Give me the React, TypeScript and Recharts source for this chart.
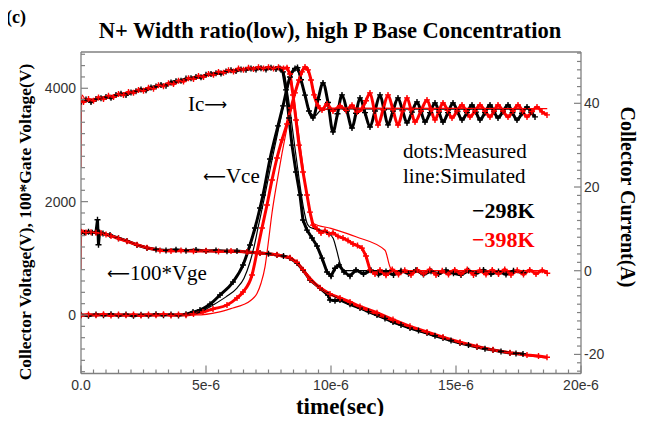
import React from 'react';
import { ComposedChart, Line, XAxis, YAxis } from 'recharts';

type P = [number, number];

// ---- axis ticks / labels ----
const timeTicksMajor = [0, 5, 10, 15, 20];
const timeTickLabels = ['0.0', '5e-6', '10e-6', '15e-6', '20e-6'];
const voltTicksMajor = [0, 2000, 4000];
const voltTickLabels = ['0', '2000', '4000'];
const currTicksMajor = [-20, 0, 20, 40];
const currTickLabels = ['-20', '0', '20', '40'];

const timeTicks = Array.from({ length: 41 }, (_, i) => i * 0.5);
const voltTicks = Array.from({ length: 29 }, (_, i) => -1000 + i * 200);
const currTicks = Array.from({ length: 39 }, (_, i) => -24 + i * 2);

// ---- data: time in 1e-6 s ----
// Collector current (A), measured dots
const ic298Meas: P[] = [[0,40.4],[0.2,40.9],[0.4,40.3],[0.6,41.0],[0.8,41.2],[1.0,41.5],[1.2,41.3],[1.4,42.0],[1.6,42.3],[1.8,42.0],[2.0,42.6],[2.2,42.9],[2.4,43.3],[2.6,43.1],[2.8,43.8],[3.0,44.0],[3.2,44.4],[3.4,44.2],[3.6,45.0],[3.8,45.3],[4.0,45.4],[4.2,45.9],[4.4,46.0],[4.6,46.3],[4.8,46.2],[5.0,46.8],[5.2,47.0],[5.4,47.2],[5.6,47.1],[5.8,47.6],[6.0,47.9],[6.2,47.7],[6.4,48.1],[6.6,48.0],[6.8,48.3],[7.0,48.1],[7.2,48.4],[7.4,48.1],[7.6,48.5],[7.8,48.2],[7.96,48.3],[8.08,47.5],[8.2,43.2],[8.32,36.5],[8.44,30.0],[8.6,23.6],[8.76,18.1],[8.88,12.1],[9.04,9.7],[9.24,7.8],[9.44,5.9],[9.64,3.0],[9.84,-0.3],[10.0,-1.3],[10.16,0.6],[10.32,1.4],[10.52,-0.3],[10.76,-1.3],[11.0,0.2],[11.3,-0.8],[11.6,0.1],[11.9,-0.9],[12.2,-0.2],[12.5,-1.0],[12.8,0.0],[13.1,-0.7],[13.4,0.2],[13.7,-0.9],[14.0,-0.1],[14.3,-0.8],[14.6,0.1],[14.9,-0.6],[15.2,-1.0],[15.5,0.0],[15.8,-0.7],[16.1,0.2],[16.4,-0.8],[16.7,-0.2],[17.0,-0.9],[17.3,0.0],[17.7,-0.5]];
const ic398Meas: P[] = [[0,40.9],[0.1,40.3],[0.3,41.0],[0.5,40.6],[0.7,41.4],[0.9,41.0],[1.1,41.8],[1.3,41.5],[1.5,42.2],[1.7,42.0],[1.9,42.7],[2.1,42.5],[2.3,43.2],[2.5,43.0],[2.7,43.7],[2.9,43.5],[3.1,44.3],[3.3,44.1],[3.5,44.8],[3.7,44.6],[3.9,45.4],[4.1,45.2],[4.3,46.0],[4.5,45.8],[4.7,46.5],[4.9,46.3],[5.1,47.0],[5.3,46.8],[5.5,47.5],[5.7,47.3],[5.9,47.9],[6.1,47.6],[6.3,48.3],[6.5,48.0],[6.7,48.5],[6.9,48.2],[7.1,48.6],[7.3,48.3],[7.5,48.6],[7.7,48.3],[7.9,48.6],[8.1,48.3],[8.24,48.5],[8.36,47.0],[8.48,42.0],[8.6,36.0],[8.72,30.0],[8.88,23.6],[9.04,18.1],[9.16,14.0],[9.28,10.9],[9.44,10.0],[9.6,9.0],[9.76,9.6],[9.92,8.7],[10.08,9.1],[10.28,8.2],[10.48,7.8],[10.68,7.2],[10.88,6.4],[11.06,6.0],[11.24,5.4],[11.4,3.5],[11.56,0.2],[11.76,-0.8],[11.96,0.2],[12.2,-1.1],[12.45,0.3],[12.7,-0.9],[12.95,0.1],[13.2,-1.0],[13.45,0.2],[13.7,-0.8],[13.95,0.3],[14.2,-1.0],[14.45,0.0],[14.7,-0.9],[14.95,0.2],[15.2,-0.8],[15.45,0.3],[15.7,-1.0],[15.95,0.1],[16.2,-0.9],[16.45,0.2],[16.7,-0.8],[16.95,0.3],[17.2,-1.0],[17.45,0.1],[17.7,-0.9],[17.95,0.2],[18.2,-0.8],[18.45,0.1],[18.65,-0.6]];
// Collector current (A), simulated lines
const ic298Sim: P[] = [[0,40.6],[1,41.5],[2,42.7],[3,44.0],[4,45.3],[5,46.6],[6,47.6],[7,48.2],[7.9,48.4],[8.1,47.6],[8.3,41.0],[8.5,32.0],[8.7,23.0],[8.9,15.0],[9.05,11.2],[9.16,10.4],[9.5,9.8],[9.84,9.2],[10.08,7.8],[10.24,4.6],[10.36,1.8],[10.5,0.0],[17.8,0.0]];
const ic398Sim: P[] = [[0,24.8],[0.03,42.0],[0.2,40.8],[1,41.6],[2,42.8],[3,44.1],[4,45.4],[5,46.7],[6,47.7],[7,48.3],[8.2,48.5],[8.4,46.0],[8.6,37.5],[8.8,28.5],[9.0,19.5],[9.16,13.5],[9.3,11.3],[10.0,10.1],[11.0,8.1],[12.16,4.9],[12.36,0.9],[12.5,0.0],[18.65,0.0]];

// Collector voltage (V), measured dots
const vce298Meas: P[] = [[0,5],[0.3,-12],[0.6,10],[0.9,-6],[1.2,14],[1.5,-10],[1.8,8],[2.1,-14],[2.4,6],[2.7,-8],[3.0,12],[3.3,-5],[3.6,9],[3.9,-7],[4.2,15],[4.48,53],[4.76,88],[5.16,190],[5.56,353],[6.08,582],[6.48,882],[6.76,1235],[6.96,1535],[7.16,1888],[7.28,2118],[7.56,2753],[7.88,3336],[8.08,3689],[8.36,4200],[8.56,4350],[8.66,4365],[8.8,4150],[8.96,3880],[9.12,3600],[9.28,3477],[9.48,3800],[9.68,4095],[9.88,3750],[10.08,3230],[10.26,3550],[10.44,3883],[10.64,3600],[10.84,3300],[11.0,3560],[11.16,3830],[11.36,3570],[11.56,3318],[11.76,3600],[11.96,3883],[12.12,3620],[12.28,3354],[12.48,3600],[12.68,3830],[12.86,3610],[13.04,3389],[13.24,3580],[13.44,3760],[13.6,3590],[13.76,3406],[13.96,3570],[14.16,3742],[14.32,3580],[14.48,3406],[14.68,3570],[14.88,3742],[15.06,3590],[15.24,3442],[15.44,3570],[15.64,3706],[15.8,3580],[15.96,3442],[16.16,3570],[16.36,3706],[16.52,3590],[16.68,3477],[16.88,3590],[17.08,3706],[17.26,3570],[17.44,3442],[17.64,3560],[17.84,3671],[18.0,3580],[18.16,3495]];
const vce398Meas: P[] = [[0,-8],[0.3,10],[0.6,-5],[0.9,12],[1.2,-10],[1.5,7],[1.8,-6],[2.1,11],[2.4,-9],[2.7,8],[3.0,-4],[3.3,13],[3.6,-7],[3.9,9],[4.2,-3],[4.5,18],[4.88,53],[5.28,106],[5.84,176],[6.24,300],[6.48,406],[6.84,706],[7.04,1112],[7.24,1535],[7.44,1941],[7.64,2383],[7.84,2770],[8.04,3089],[8.24,3371],[8.4,3653],[8.56,3918],[8.72,4147],[8.84,4289],[8.96,4377],[9.08,4324],[9.2,4147],[9.32,3883],[9.48,3689],[9.64,3618],[9.84,3724],[10.08,3600],[10.36,3690],[10.6,3610],[10.84,3700],[11.04,3580],[11.24,3640],[11.4,3780],[11.56,3918],[11.72,3640],[11.88,3353],[12.08,3620],[12.28,3883],[12.48,3620],[12.68,3353],[12.86,3600],[13.04,3830],[13.2,3620],[13.36,3406],[13.6,3600],[13.84,3795],[14.0,3620],[14.16,3442],[14.32,3600],[14.48,3742],[14.66,3610],[14.84,3477],[15.04,3600],[15.24,3706],[15.4,3600],[15.56,3495],[15.76,3600],[15.96,3706],[16.16,3600],[16.36,3495],[16.52,3600],[16.68,3706],[16.88,3600],[17.08,3495],[17.28,3600],[17.48,3706],[17.66,3600],[17.84,3495],[18.04,3590],[18.24,3671],[18.44,3583],[18.64,3530]];
// Collector voltage (V), simulated lines
const vce298Sim: P[] = [[0,0],[4.2,0],[4.8,60],[5.28,176],[5.8,320],[6.24,476],[6.52,650],[6.76,935],[6.92,1200],[7.08,1535],[7.36,2118],[7.64,2735],[7.96,3406],[8.24,3971],[8.44,4253],[8.6,4324],[8.76,4218],[8.96,3883],[9.16,3583],[9.36,3512],[9.56,3600],[9.96,3636],[17.8,3630]];
const vce398Sim: P[] = [[0,0],[4.6,0],[5.5,50],[6.08,123],[6.48,180],[6.8,260],[7.04,380],[7.2,560],[7.36,850],[7.48,1235],[7.64,1800],[7.84,2350],[8.04,2850],[8.24,3300],[8.44,3700],[8.64,4050],[8.84,4300],[8.96,4340],[9.1,4280],[9.3,3980],[9.5,3720],[9.7,3620],[10.0,3650],[18.65,3640]];

// 100*Gate voltage (V), measured dots
const vge298Meas: P[] = [[0,1460],[0.15,1445],[0.3,1470],[0.45,1450],[0.6,1465],[0.66,1680],[0.7,1240],[0.74,1455],[0.88,1440],[1.16,1410],[1.5,1355],[1.84,1306],[2.24,1235],[2.64,1182],[3.0,1155],[3.4,1140],[3.8,1150],[4.2,1135],[4.6,1148],[5.0,1130],[5.4,1140],[5.84,1125],[6.24,1130],[6.64,1112],[7.16,1094],[7.5,1080],[7.84,1059],[8.1,1040],[8.36,1006],[8.64,918],[8.88,794],[9.16,618],[9.56,476],[9.88,353],[9.96,265],[10.16,250],[10.36,265],[10.76,190],[11.16,124],[11.5,60],[11.84,0],[12.16,-60],[12.48,-124],[12.8,-175],[13.16,-229],[13.5,-275],[13.84,-318],[14.16,-365],[14.48,-406],[14.8,-450],[15.16,-494],[15.5,-530],[15.84,-565],[16.16,-595],[16.48,-618],[16.8,-645],[17.16,-671],[17.4,-680],[17.68,-688]];
const vge398Meas: P[] = [[0,1470],[0.2,1455],[0.4,1462],[0.6,1450],[0.8,1445],[1.0,1420],[1.2,1395],[1.5,1350],[1.84,1300],[2.24,1240],[2.64,1185],[3.16,1140],[3.6,1130],[4.0,1140],[4.5,1125],[5.0,1135],[5.5,1120],[6.0,1128],[6.64,1110],[7.16,1095],[7.84,1062],[8.36,1010],[8.64,930],[8.88,800],[9.16,625],[9.56,480],[9.96,370],[10.36,300],[10.76,230],[11.16,150],[11.84,40],[12.48,-80],[13.16,-200],[13.84,-300],[14.48,-390],[15.16,-480],[15.84,-555],[16.48,-615],[17.16,-665],[17.84,-705],[18.3,-725],[18.64,-745]];
// 100*Gate voltage (V), simulated lines
const vge298Sim: P[] = [[0,1455],[0.8,1430],[1.6,1345],[2.4,1225],[3.2,1150],[5,1135],[6.6,1105],[7.6,1065],[8.4,990],[8.8,850],[9.2,640],[9.6,470],[10.0,360],[10.8,190],[11.6,30],[12.4,-110],[13.2,-240],[14,-350],[14.8,-450],[15.6,-535],[16.4,-605],[17.2,-665],[17.9,-705]];
const vge398Sim: P[] = [[0,794],[0.03,1500],[0.4,1465],[0.8,1440],[1.6,1350],[2.4,1230],[3.2,1150],[5,1130],[6.6,1100],[7.6,1060],[8.4,985],[8.8,845],[9.2,650],[9.6,480],[10.0,370],[10.8,200],[11.6,45],[12.4,-95],[13.2,-225],[14,-340],[14.8,-445],[15.6,-535],[16.4,-610],[17.2,-675],[18,-725],[18.65,-760]];

const rows = (pts: P[]) => pts.map(([t, v]) => ({ t, v }));

const AXIS = '#808080';
const BLACK = '#000000';
const RED = '#ff0000';
const SERIF = '"Liberation Serif", "Times New Roman", serif';
const SANS = '"Liberation Sans", Arial, sans-serif';
const ARROWFONT = '"DejaVu Sans", sans-serif';

const plusDot = (color: string) => (props: any) => {
  const { cx, cy, index } = props;
  if (cx == null || cy == null || isNaN(cx) || isNaN(cy)) return <g key={`n${index}`} />;
  return (
    <path
      key={`d${index}`}
      d={`M${cx - 3},${cy}h6M${cx},${cy - 3}v6`}
      stroke={color}
      strokeWidth={1.4}
      fill="none"
    />
  );
};

const XTick = (props: any) => {
  const { x, y, payload } = props;
  const i = timeTicksMajor.indexOf(payload.value);
  const major = i >= 0;
  return (
    <g>
      <line x1={x} x2={x} y1={y} y2={y - (major ? 8 : 4)} stroke={AXIS} strokeWidth={1.2} />
      {major && (
        <text x={x} y={y + 16.5} textAnchor="middle" fontSize={14} fontFamily={SANS} fill="#333">
          {timeTickLabels[i]}
        </text>
      )}
    </g>
  );
};

const LTick = (props: any) => {
  const { x, y, payload } = props;
  const i = voltTicksMajor.indexOf(payload.value);
  const major = i >= 0;
  return (
    <g>
      <line x1={x} x2={x + (major ? 7 : 4)} y1={y} y2={y} stroke={AXIS} strokeWidth={1.2} />
      {major && (
        <text x={x - 5} y={y + 5} textAnchor="end" fontSize={14} fontFamily={SANS} fill="#333">
          {voltTickLabels[i]}
        </text>
      )}
    </g>
  );
};

const RTick = (props: any) => {
  const { x, y, payload } = props;
  const i = currTicksMajor.indexOf(payload.value);
  const major = i >= 0;
  return (
    <g>
      <line x1={x} x2={x - (major ? 7 : 4)} y1={y} y2={y} stroke={AXIS} strokeWidth={1.2} />
      {major && (
        <text x={x + 3} y={y + 5} textAnchor="start" fontSize={14} fontFamily={SANS} fill="#333">
          {currTickLabels[i]}
        </text>
      )}
    </g>
  );
};

const measLine = (key: string, pts: P[], color: string, axis: string, type: any = 'linear') => (
  <Line
    key={key}
    data={rows(pts)}
    dataKey="v"
    xAxisId="x"
    yAxisId={axis}
    type={type}
    stroke={color}
    strokeWidth={3}
    dot={plusDot(color)}
    activeDot={false}
    isAnimationActive={false}
  />
);

const simLine = (key: string, pts: P[], color: string, axis: string) => (
  <Line
    key={key}
    data={rows(pts)}
    dataKey="v"
    xAxisId="x"
    yAxisId={axis}
    type="monotone"
    stroke={color}
    strokeWidth={1.2}
    dot={false}
    activeDot={false}
    isAnimationActive={false}
  />
);

export default function App() {
  return (
    <div style={{ margin: -8, position: 'relative', width: 652, height: 424, overflow: 'hidden', background: '#fff' }}>
      <ComposedChart width={652} height={424} margin={{ top: 52, right: 11, bottom: 20.5, left: 21 }}>
        <XAxis
          xAxisId="x"
          dataKey="t"
          type="number"
          domain={[0, 20]}
          allowDataOverflow
          ticks={timeTicks}
          interval={0}
          tick={<XTick />}
          tickSize={0}
          tickMargin={0}
          tickLine={false}
          axisLine={{ stroke: AXIS, strokeWidth: 1.3 }}
          height={30}
        />
        <YAxis
          yAxisId="L"
          orientation="left"
          type="number"
          domain={[-1032, 4640]}
          allowDataOverflow
          ticks={voltTicks}
          interval={0}
          tick={<LTick />}
          tickSize={0}
          tickMargin={0}
          tickLine={false}
          axisLine={{ stroke: AXIS, strokeWidth: 1.3 }}
          width={60}
        />
        <YAxis
          yAxisId="R"
          orientation="right"
          type="number"
          domain={[-24.56, 52.26]}
          allowDataOverflow
          ticks={currTicks}
          interval={0}
          tick={<RTick />}
          tickSize={0}
          tickMargin={0}
          tickLine={false}
          axisLine={{ stroke: AXIS, strokeWidth: 1.3 }}
          width={60}
        />
        {measLine('ic298m', ic298Meas, BLACK, 'R')}
        {measLine('vce298m', vce298Meas, BLACK, 'L', 'monotone')}
        {measLine('vge298m', vge298Meas, BLACK, 'L')}
        {measLine('ic398m', ic398Meas, RED, 'R')}
        {measLine('vce398m', vce398Meas, RED, 'L', 'monotone')}
        {measLine('vge398m', vge398Meas, RED, 'L')}
        {simLine('ic298s', ic298Sim, BLACK, 'R')}
        {simLine('vce298s', vce298Sim, BLACK, 'L')}
        {simLine('vge298s', vge298Sim, BLACK, 'L')}
        {simLine('ic398s', ic398Sim, RED, 'R')}
        {simLine('vce398s', vce398Sim, RED, 'L')}
        {simLine('vge398s', vge398Sim, RED, 'L')}
      </ComposedChart>
      <svg
        width={652}
        height={424}
        style={{ position: 'absolute', left: 0, top: 0, pointerEvents: 'none' }}
      >
        <line x1={81} x2={581} y1={52} y2={52} stroke={AXIS} strokeWidth={1.3} />
        <text x={6} y={23} fontFamily={SERIF} fontWeight="bold" fontSize={18} fill="#000">(c)</text>
        <text x={330} y={38} textAnchor="middle" fontFamily={SERIF} fontWeight="bold" fontSize={22.5} fill="#000">
          N+ Width ratio(low), high P Base Concentration
        </text>
        <text
          transform="translate(31,222) rotate(-90)"
          textAnchor="middle"
          fontFamily={SERIF}
          fontWeight="bold"
          fontSize={17.5}
          fill="#000"
        >
          Collector Voltage(V), 100*Gate Voltage(V)
        </text>
        <text
          transform="translate(621,197) rotate(90)"
          textAnchor="middle"
          fontFamily={SERIF}
          fontWeight="bold"
          fontSize={20}
          fill="#000"
        >
          Collector Current(A)
        </text>
        <text x={340} y={414} textAnchor="middle" fontFamily={SERIF} fontWeight="bold" fontSize={23} fill="#000">
          time(sec)
        </text>
        <text x={188} y={111} fontFamily={SERIF} fontSize={21} fill="#000">
          Ic<tspan fontFamily={ARROWFONT} fontSize={16} dy={-1}>⟶</tspan>
        </text>
        <text x={203} y={183} fontFamily={SERIF} fontSize={21} fill="#000">
          <tspan fontFamily={ARROWFONT} fontSize={16} dy={-1}>⟵</tspan>
          <tspan dy={1}>Vce</tspan>
        </text>
        <text x={107} y={280} fontFamily={SERIF} fontSize={21} fill="#000">
          <tspan fontFamily={ARROWFONT} fontSize={16} dy={-1}>⟵</tspan>
          <tspan dy={1}>100*Vge</tspan>
        </text>
        <text x={403} y={158} fontFamily={SERIF} fontSize={21} fill="#000">dots:Measured</text>
        <text x={403} y={183} fontFamily={SERIF} fontSize={21} fill="#000">line:Simulated</text>
        <text x={472} y={218} fontFamily={SERIF} fontWeight="bold" fontSize={22} fill={BLACK}>−298K</text>
        <text x={472} y={247} fontFamily={SERIF} fontWeight="bold" fontSize={22} fill={RED}>−398K</text>
      </svg>
    </div>
  );
}
